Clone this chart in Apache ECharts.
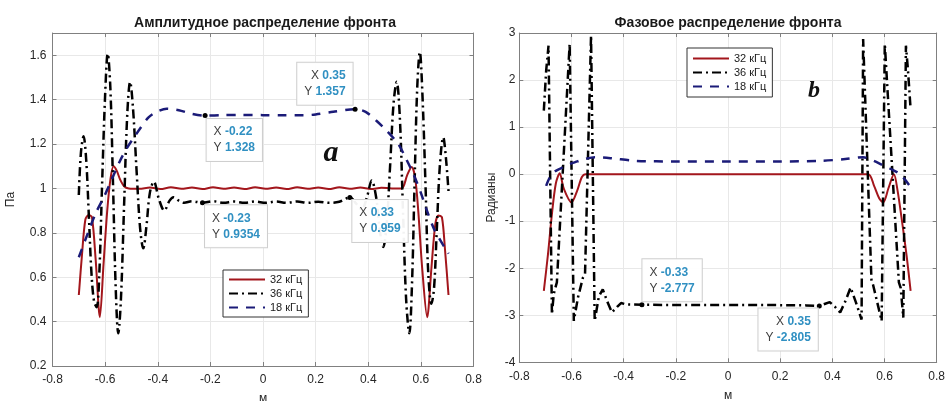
<!DOCTYPE html>
<html>
<head>
<meta charset="utf-8">
<script src="https://cdn.jsdelivr.net/npm/echarts@6/dist/echarts.min.js"></script>
<style>
  html, body { margin: 0; padding: 0; background: #fff; }
  #chart { width: 946px; height: 401px; }
</style>
</head>
<body>
<div id="chart"></div>
<script>
// x-ticks shared by both panels
var xTicks = [-0.8, 0.8, 0.2];
var ampTicks = [0.2, 1.7, 0.2];
var phaseTicks = [-4, 3, 1];

var names = ['32 кГц', '36 кГц', '18 кГц'];

// Амплитуда, Па  ([м, Па])
var amp32 = [[-0.70,0.52],[-0.688,0.70],[-0.675,0.86],[-0.662,0.88],[-0.65,0.87],[-0.636,0.68],[-0.62,0.42],
  [-0.606,0.66],[-0.592,0.90],[-0.58,1.04],[-0.568,1.10],[-0.556,1.08],[-0.543,1.04],[-0.528,1.01],[-0.51,1.0],
  [-0.47,0.998],[-0.43,1.004],[-0.39,0.997],[-0.35,1.005],[-0.31,0.998],[-0.27,1.004],[-0.23,0.997],[-0.19,1.005],
  [-0.15,0.998],[-0.11,1.004],[-0.07,0.997],[-0.03,1.005],[0.01,0.998],[0.05,1.004],[0.09,0.997],[0.13,1.005],
  [0.17,0.998],[0.21,1.004],[0.25,0.997],[0.29,1.005],[0.33,0.998],[0.37,1.004],[0.41,0.997],[0.45,1.003],
  [0.49,1.0],[0.527,1.0],[0.548,1.06],[0.565,1.096],[0.578,1.05],[0.59,0.90],[0.605,0.64],[0.624,0.42],
  [0.64,0.64],[0.655,0.84],[0.667,0.878],[0.68,0.87],[0.692,0.72],[0.705,0.52]];

var amp36 = [[-0.70,0.97],[-0.692,1.16],[-0.682,1.235],[-0.672,1.13],[-0.662,0.88],[-0.652,0.62],[-0.642,0.49],
  [-0.632,0.465],[-0.622,0.62],[-0.612,1.0],[-0.60,1.42],[-0.59,1.607],[-0.58,1.45],[-0.57,1.02],[-0.56,0.56],
  [-0.55,0.347],[-0.54,0.50],[-0.528,0.92],[-0.516,1.33],[-0.505,1.48],[-0.494,1.36],[-0.48,1.07],[-0.467,0.82],
  [-0.455,0.73],[-0.443,0.83],[-0.43,0.98],[-0.415,1.03],[-0.395,0.95],[-0.375,0.90],[-0.355,0.945],[-0.34,0.96],
  [-0.32,0.945],[-0.30,0.935],[-0.27,0.942],[-0.23,0.9354],[-0.19,0.942],[-0.15,0.935],[-0.11,0.941],[-0.07,0.935],
  [-0.03,0.941],[0.01,0.935],[0.05,0.941],[0.09,0.935],[0.13,0.941],[0.17,0.935],[0.21,0.94],[0.25,0.935],
  [0.29,0.94],[0.33,0.959],[0.355,0.93],[0.375,0.905],[0.395,0.96],[0.413,1.036],[0.43,0.96],[0.445,0.80],
  [0.457,0.736],[0.47,0.84],[0.483,1.10],[0.496,1.38],[0.508,1.48],[0.52,1.32],[0.532,0.90],[0.544,0.50],
  [0.556,0.347],[0.566,0.56],[0.576,1.02],[0.586,1.45],[0.596,1.614],[0.606,1.42],[0.618,1.0],[0.628,0.62],
  [0.64,0.48],[0.65,0.55],[0.66,0.80],[0.672,1.10],[0.685,1.23],[0.695,1.14],[0.706,0.97]];

var amp18 = [[-0.70,0.69],[-0.665,0.80],[-0.635,0.89],[-0.605,0.96],[-0.575,1.04],[-0.545,1.12],[-0.518,1.18],
  [-0.49,1.23],[-0.467,1.27],[-0.435,1.32],[-0.404,1.345],[-0.366,1.359],[-0.32,1.352],[-0.27,1.336],[-0.22,1.328],
  [-0.15,1.33],[-0.08,1.331],[0,1.33],[0.08,1.329],[0.15,1.329],[0.2,1.333],[0.267,1.345],[0.35,1.357],
  [0.39,1.345],[0.43,1.306],[0.47,1.26],[0.514,1.20],[0.545,1.13],[0.571,1.066],[0.60,0.98],[0.62,0.91],
  [0.653,0.81],[0.705,0.706]];

// Фаза, рад
var phase32 = [[-0.706,-2.48],[-0.69,-1.7],[-0.675,-0.85],[-0.66,-0.2],[-0.645,0.02],[-0.63,-0.3],[-0.60,-0.60],
  [-0.578,-0.35],[-0.56,-0.06],[-0.545,0],[-0.4,0],[-0.2,0],[0,0],[0.2,0],[0.4,0],[0.537,0],[0.56,-0.25],
  [0.58,-0.52],[0.595,-0.60],[0.615,-0.3],[0.636,0.0],[0.65,-0.35],[0.665,-0.92],[0.685,-1.75],[0.70,-2.48]];

var phase36 = [[-0.706,1.35],[-0.697,2.2],[-0.688,2.73],[-0.675,-2.98],[-0.668,-2.55],[-0.662,-2.42],[-0.656,-2.3],
  [-0.607,2.77],[-0.591,-3.12],[-0.575,-2.62],[-0.556,-2.2],[-0.548,-2.12],[-0.525,2.95],[-0.511,-3.12],
  [-0.495,-2.6],[-0.48,-2.45],[-0.462,-2.72],[-0.445,-2.94],[-0.425,-2.82],[-0.41,-2.74],[-0.39,-2.77],
  [-0.33,-2.777],[-0.25,-2.78],[-0.1,-2.78],[0.05,-2.78],[0.2,-2.785],[0.3,-2.79],[0.35,-2.805],[0.37,-2.76],
  [0.39,-2.72],[0.41,-2.82],[0.43,-2.94],[0.45,-2.7],[0.47,-2.41],[0.49,-2.72],[0.512,-3.09],[0.518,2.87],
  [0.55,-2.27],[0.556,-2.35],[0.589,-3.12],[0.601,2.77],[0.655,-2.3],[0.662,-2.42],[0.672,-3.05],[0.682,2.73],
  [0.69,2.2],[0.70,1.38]];

var phase18 = [[-0.697,-0.25],[-0.684,-0.08],[-0.665,0.05],[-0.642,0.12],[-0.615,0.2],[-0.588,0.25],[-0.556,0.31],
  [-0.51,0.36],[-0.45,0.34],[-0.35,0.28],[-0.2,0.27],[0,0.27],[0.2,0.27],[0.35,0.28],[0.45,0.32],[0.518,0.36],
  [0.555,0.29],[0.59,0.2],[0.62,0.12],[0.659,0.0],[0.697,-0.25]];

// datatips: [x, y, label offset x, offset y, align, verticalAlign]
var tips18 = [[0.35, 1.357, 0, -2, 'right', 'bottom'], [-0.22, 1.328, 4, 6, 'left', 'top']];
var tips36 = [[-0.23, 0.9354, 5, 5, 'left', 'top'], [0.33, 0.959, 5, 5, 'left', 'top']];
var tipsPhase36 = [[-0.33, -2.777, 3, -1, 'left', 'bottom'], [0.35, -2.805, 1, 5, 'right', 'top']];

var axisColor = '#808080';
var textColor = '#262626';
var font = 'Liberation Sans, Arial, sans-serif';

function tipMarks(list) {
  return {
    symbol: 'circle',
    symbolSize: 5,
    itemStyle: { color: '#000' },
    data: list.map(function (t) {
      return {
        coord: [t[0], t[1]],
        label: {
          show: true,
          position: [t[2], t[3]],
          align: t[4],
          verticalAlign: t[5],
          formatter: '{k|X} {v|' + t[0] + '}\n{k|Y} {v|' + t[1] + '}',
          backgroundColor: 'rgba(255,255,255,0.95)',
          borderColor: '#cfcfcf',
          borderWidth: 1,
          padding: [5, 7, 5, 7],
          rich: {
            k: { color: '#404040', fontSize: 12, lineHeight: 16, fontFamily: font },
            v: { color: '#3090c2', fontSize: 12, lineHeight: 16, fontWeight: 'bold', fontFamily: font }
          }
        }
      };
    })
  };
}

function xAx(grid, pos) {
  var bottom = pos === 'bottom';
  return {
    gridIndex: grid, type: 'value', position: pos,
    min: xTicks[0], max: xTicks[1], interval: xTicks[2],
    name: bottom ? 'м' : '', nameLocation: 'middle', nameGap: 27,
    nameTextStyle: { color: textColor, fontSize: 12, fontFamily: font },
    axisLine: { show: true, onZero: false, lineStyle: { color: axisColor } },
    axisTick: { show: true, inside: true, length: 4, lineStyle: { color: axisColor } },
    axisLabel: { show: bottom, color: textColor, fontSize: 12, margin: 8, fontFamily: font },
    splitLine: { show: bottom, lineStyle: { color: '#e8e8e8' } }
  };
}

function yAx(grid, pos, ticks, name, gap, margin) {
  var left = pos === 'left';
  return {
    gridIndex: grid, type: 'value', position: pos,
    min: ticks[0], max: ticks[1], interval: ticks[2],
    name: left ? name : '', nameLocation: 'middle', nameGap: gap,
    nameTextStyle: { color: textColor, fontSize: 12, fontFamily: font },
    axisLine: { show: true, onZero: false, lineStyle: { color: axisColor } },
    axisTick: { show: true, inside: true, length: 4, lineStyle: { color: axisColor } },
    axisLabel: { show: left, color: textColor, fontSize: 12, margin: margin, showMaxLabel: ticks[1] % ticks[2] === 0 ? true : false, fontFamily: font },
    splitLine: { show: left, lineStyle: { color: '#e8e8e8' } }
  };
}

var red = '#a3161c', black = '#000000', blue = '#1b1b78';

function line(name, data, color, type, width, xi, yi, smooth) {
  return {
    name: name, type: 'line', data: data, xAxisIndex: xi, yAxisIndex: yi,
    symbol: 'none', showSymbol: false, smooth: smooth,
    lineStyle: { color: color, type: type, width: width },
    itemStyle: { color: color }
  };
}

var chart = echarts.init(document.getElementById('chart'), null, { renderer: 'canvas' });

var s = [
  line(names[0], amp32, red, 'solid', 2, 0, 0, 0.3),
  line(names[1], amp36, black, [9, 4, 2, 4], 2.5, 0, 0, 0.35),
  line(names[2], amp18, blue, [9, 8], 2.5, 0, 0, 0.3),
  line(names[0], phase32, red, 'solid', 2, 2, 2, 0.3),
  line(names[1], phase36, black, [9, 4, 2, 4], 2.5, 2, 2, false),
  line(names[2], phase18, blue, [9, 8], 2.5, 2, 2, 0.3)
];
s[1].markPoint = tipMarks(tips36);
s[2].markPoint = tipMarks(tips18);
s[4].markPoint = tipMarks(tipsPhase36);

function legend(left, top, pad) {
  return {
    left: left, top: top, orient: 'vertical', data: names,
    itemWidth: 36, itemHeight: 12, itemGap: 3, padding: pad,
    borderColor: '#333', borderWidth: 1, backgroundColor: '#fff',
    itemStyle: { opacity: 0 },
    textStyle: { fontSize: 11, color: '#1a1a1a', fontFamily: font }
  };
}

var option = {
  animation: false,
  backgroundColor: '#fff',
  title: [
    { text: 'Амплитудное распределение фронта', left: 260, top: 11, textAlign: 'center',
      textStyle: { fontSize: 14, fontWeight: 'bold', color: '#1a1a1a', fontFamily: font } },
    { text: 'Фазовое распределение фронта', left: 723, top: 11, textAlign: 'center',
      textStyle: { fontSize: 14, fontWeight: 'bold', color: '#1a1a1a', fontFamily: font } }
  ],
  legend: [legend(223, 270, [4, 6, 4, 5]), legend(687, 48, [5, 6, 5, 5])],
  grid: [
    { left: 52.5, top: 33, width: 421, height: 333, outerBoundsMode: 'none' },
    { left: 519.3, top: 33, width: 417.4, height: 329.3, outerBoundsMode: 'none' }
  ],
  xAxis: [xAx(0, 'bottom'), xAx(0, 'top'), xAx(1, 'bottom'), xAx(1, 'top')],
  yAxis: [
    yAx(0, 'left', ampTicks, 'Па', 36, 6), yAx(0, 'right', ampTicks, '', 0, 0),
    yAx(1, 'left', phaseTicks, 'Радианы', 22, 4), yAx(1, 'right', phaseTicks, '', 0, 0)
  ],
  series: s,
  graphic: [
    { type: 'text', x: 331, y: 153, style: { text: 'a', align: 'center', verticalAlign: 'middle',
      font: 'italic bold 30px "Liberation Serif", serif', fill: '#111' } },
    { type: 'text', x: 814, y: 91, style: { text: 'b', align: 'center', verticalAlign: 'middle',
      font: 'italic bold 24px "Liberation Serif", serif', fill: '#111' } }
  ]
};

chart.setOption(option);
</script>
</body>
</html>
